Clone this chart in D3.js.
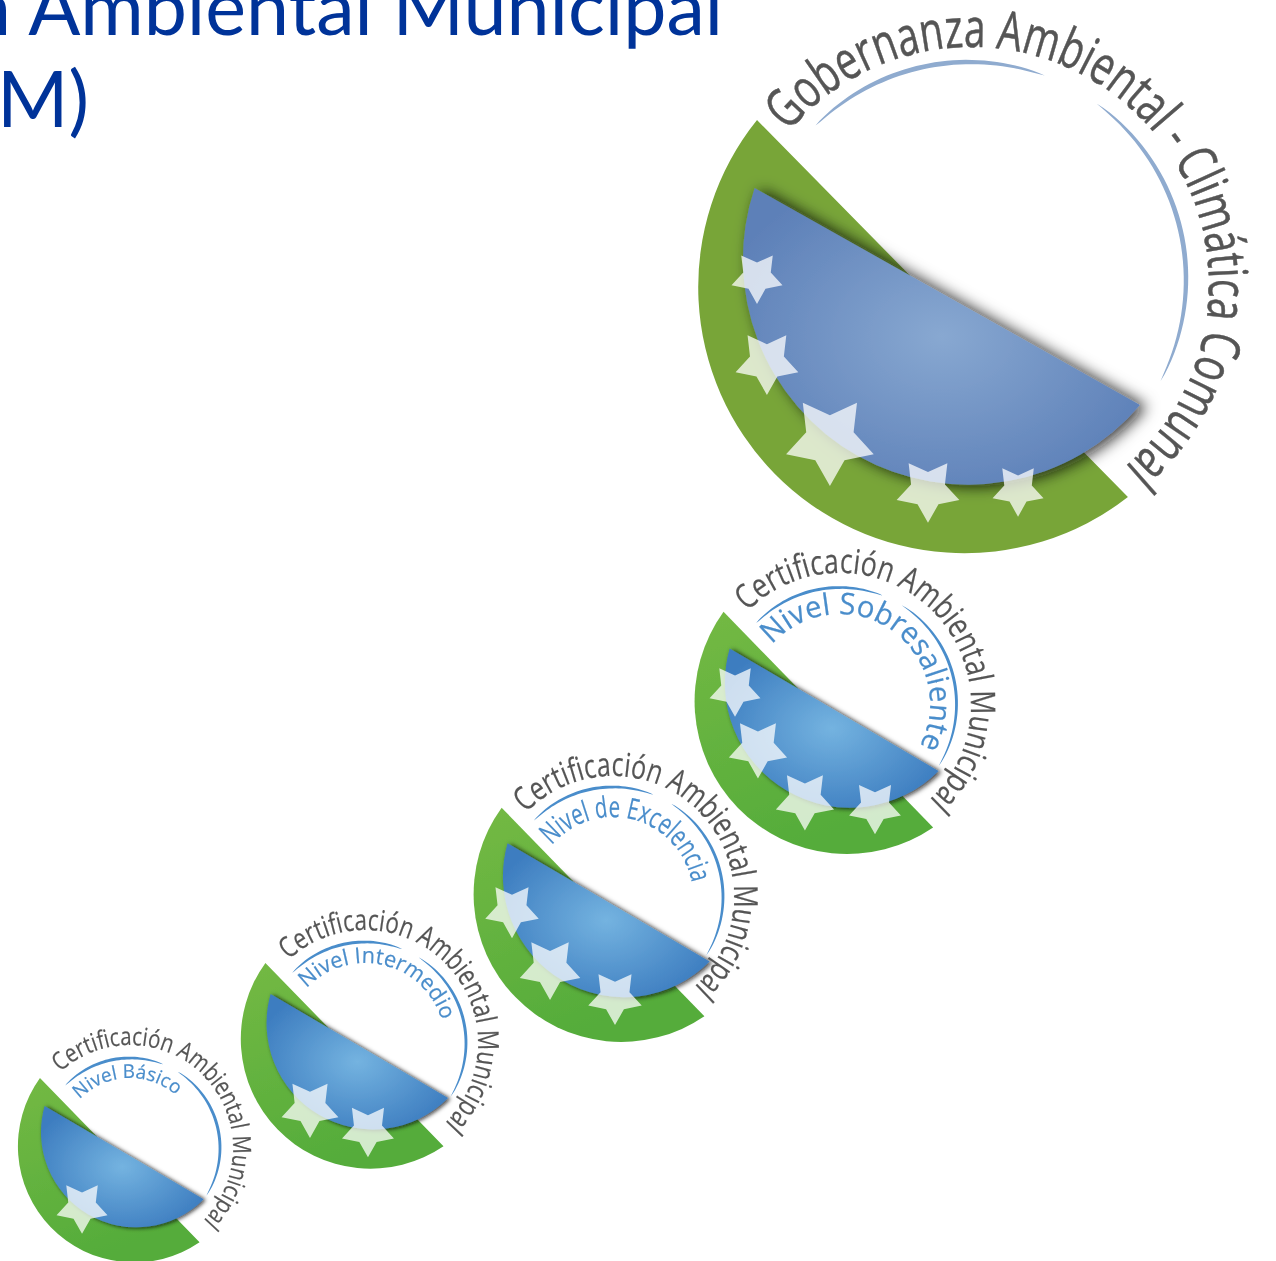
<!DOCTYPE html>
<html>
<head>
<meta charset="utf-8">
<style>
  html, body { margin: 0; padding: 0; background: #fff; overflow: hidden; }
  svg { display: block; }
  text { font-family: "Liberation Sans Narrow", "Open Sans", sans-serif; }
  .heading { font-family: Lato, "Open Sans", sans-serif; fill: #003399; font-size: 77px; }
</style>
</head>
<body>
<div id="chart"></div>
<script src="https://d3js.org/d3.v7.min.js"></script>
<script>
  // what the picture says
  const headingLines = ["n Ambiental Municipal", "M)"];
  const badgeTitles = [
    "Gobernanza Ambiental - Climática Comunal",
    "Certificación Ambiental Municipal",
    "Certificación Ambiental Municipal",
    "Certificación Ambiental Municipal",
    "Certificación Ambiental Municipal"
  ];
  const badgeLevels = ["", "Nivel Sobresaliente", "Nivel de Excelencia", "Nivel Intermedio", "Nivel Básico"];
  const badgeStarCounts = [5, 4, 3, 2, 1];

  // layout, in px of the page
  const mainShape = {a: [-.80, -.369], b: [.638, .44], r: .84, greenA: [-.791, -.623], greenB: [.593, .784], greenR: .9935};
  const smallShape = {a: [-.78, -.33], b: [.585, .47], r: .817, greenA: [-.82, -.57], greenB: [.55, .84], greenR: .998};

  const layout = [
    {cx: 969, cy: 287, R: 268, rx: 969, ry: 279, ring: 217, tx: 971, ty: 285, titleR: 238, titleSize: 54, titleLen: 788, title: [-50, 152],
      arcs: [[-45, 20.4], [36, 118]], shape: mainShape, main: true, stars: [[-.791, -.037, .10], [-.754, .280, .123], [-.519, .571, .172], [-.153, .757, .123], [.183, .757, .10]]},
    {cx: 849, cy: 699, R: 153, rx: 840, ry: 704, ring: 116.5, titleR: 131, titleSize: 34, titleLen: 416, title: [-45, 150], levelR: 90, levelSize: 30, levelLen: 262, level: [-49, 125],
      arcs: [[-46, 21.6], [32, 122]], shape: smallShape, stars: [[-.745, -.059, .175], [-.595, .320, .2], [-.288, .66, .2], [.17, .706, .178]]},
    {cx: 623, cy: 892, R: 148, rx: 613, ry: 897, ring: 110, titleR: 121, titleSize: 33, titleLen: 388, title: [-46, 150], levelR: 80, levelSize: 29, levelLen: 181, level: [-50, 90],
      arcs: [[-46, 21.6], [32, 122]], shape: smallShape, stars: [[-.75, .122, .19], [-.493, .514, .215], [-.054, .709, .19]]},
    {cx: 372, cy: 1037, R: 130, rx: 365, ry: 1043, ring: 101, titleR: 113, titleSize: 29, titleLen: 350, title: [-42.5, 150], levelR: 80, levelSize: 22, levelLen: 168, level: [-47, 85],
      arcs: [[-46, 21.6], [32, 122]], shape: smallShape, stars: [[-.477, .546, .23], [-.031, .715, .21]]},
    {cx: 135.5, cy: 1144.5, R: 116.5, rx: 130, ry: 1148, ring: 90, titleR: 103, titleSize: 25, titleLen: 318, title: [-42.5, 150], levelR: 70, levelSize: 19, levelLen: 106, level: [-46, 55],
      arcs: [[-46, 21.6], [32, 122]], shape: smallShape, stars: [[-.459, .536, .23]]}
  ];

  const width = 1276, height = 1261;
  const rad = d => d * Math.PI / 180;

  const svg = d3.select("#chart").append("svg").attr("width", width).attr("height", height);
  const defs = svg.append("defs");

  function radial(id, inner, outer) {
    const g = defs.append("radialGradient").attr("id", id).attr("cx", "50%").attr("cy", "50%").attr("r", "58%");
    g.append("stop").attr("offset", "0%").attr("stop-color", inner);
    g.append("stop").attr("offset", "100%").attr("stop-color", outer);
  }
  radial("blueMain", "#88a8d1", "#5d80b8");
  radial("blueSmall", "#74b3e0", "#3d7dc0");

  const greenSmall = defs.append("linearGradient").attr("id", "greenSmall").attr("x1", 0).attr("y1", 0).attr("x2", .4).attr("y2", 1);
  greenSmall.append("stop").attr("offset", "0%").attr("stop-color", "#74b944");
  greenSmall.append("stop").attr("offset", "100%").attr("stop-color", "#54ac3a");

  const soft = defs.append("filter").attr("id", "soft").attr("x", "-5%").attr("y", "-5%").attr("width", "110%").attr("height", "110%");
  soft.append("feGaussianBlur").attr("stdDeviation", .5);

  // heading, cut off by the top and left edge like the source slide
  svg.append("text").attr("class", "heading").attr("x", -32).attr("y", 35)
    .attr("textLength", 755).attr("lengthAdjust", "spacingAndGlyphs").text(headingLines[0]);
  svg.append("text").attr("class", "heading").attr("x", -3).attr("y", 127).text(headingLines[1]);

  const starLine = d3.lineRadial().curve(d3.curveLinearClosed);

  function starPath(r) {
    return starLine(d3.range(10).map(i => [Math.PI + i * Math.PI / 5, i % 2 ? r * .54 : r]));
  }

  function segment(u, a, b, r) {
    // chord from a round the bottom back to b, then closed by a straight line
    return `M${u(a[0])},${u(a[1])}A${u(r)},${u(r)} 0 0 0 ${u(b[0])},${u(b[1])}Z`;
  }

  function arcPath(cx, cy, r, range) {
    const p = d3.path();
    p.arc(cx, cy, r, rad(range[0] - 90), rad(range[1] - 90));
    return p.toString();
  }

  // ring stroke that thins out to nothing at both ends
  function taperedArc(r, range, w) {
    const steps = 40;
    const t = d3.scaleLinear().domain([0, steps]).range(range);
    const thick = k => w * Math.pow(Math.sin(Math.PI * k / steps), .55);
    return d3.areaRadial()
      .angle(k => rad(t(k)))
      .innerRadius(k => r - thick(k))
      .outerRadius(k => r + thick(k))(d3.range(steps + 1));
  }

  layout.forEach((b, i) => {
    const u = d3.scaleLinear().domain([0, 1]).range([0, b.R]);
    const g = svg.append("g").attr("filter", "url(#soft)");
    const body = g.append("g").attr("transform", `translate(${b.cx},${b.cy})`);

    const shadow = defs.append("filter").attr("id", "shadow" + i)
      .attr("x", "-15%").attr("y", "-15%").attr("width", "130%").attr("height", "130%");
    shadow.append("feDropShadow").attr("dx", u(b.main ? .024 : .018)).attr("dy", u(.006)).attr("stdDeviation", u(b.main ? .028 : .017))
      .attr("flood-color", "#111").attr("flood-opacity", .85);

    body.append("path")
      .attr("d", segment(u, b.shape.greenA, b.shape.greenB, b.shape.greenR))
      .attr("fill", b.main ? "#78a539" : "url(#greenSmall)");

    body.append("path")
      .attr("d", segment(u, b.shape.a, b.shape.b, b.shape.r))
      .attr("fill", b.main ? "url(#blueMain)" : "url(#blueSmall)")
      .attr("filter", `url(#shadow${i})`);

    body.selectAll("path.star").data(b.stars.slice(0, badgeStarCounts[i])).join("path")
      .attr("class", "star")
      .attr("transform", d => `translate(${u(d[0])},${u(d[1])})`)
      .attr("d", d => starPath(u(d[2])))
      .attr("fill", "#fff").attr("fill-opacity", .74);

    const ringColor = b.main ? "#8fabcf" : "#4a8dcb";
    const ring = g.append("g").attr("transform", `translate(${b.rx},${b.ry})`);
    b.arcs.forEach(r => {
      ring.append("path")
        .attr("d", taperedArc(b.ring, r, b.main ? 2.4 : 1.5))
        .attr("fill", ringColor);
    });

    // curved labels
    const titleId = "titlePath" + i;
    defs.append("path").attr("id", titleId).attr("d", arcPath(b.tx || b.rx, b.ty || b.ry, b.titleR, b.title));
    g.append("text").attr("font-size", b.titleSize).attr("fill", "#555")
      .attr("stroke", "#555").attr("stroke-width", b.main ? .5 : .2)
      .append("textPath").attr("href", "#" + titleId)
      .attr("textLength", b.titleLen).attr("lengthAdjust", "spacingAndGlyphs")
      .text(badgeTitles[i]);

    if (badgeLevels[i]) {
      const levelId = "levelPath" + i;
      defs.append("path").attr("id", levelId).attr("d", arcPath(b.rx, b.ry, b.levelR, b.level));
      g.append("text").attr("font-size", b.levelSize).attr("fill", "#4a8dcb")
        .attr("stroke", "#4a8dcb").attr("stroke-width", .2)
        .append("textPath").attr("href", "#" + levelId)
        .attr("textLength", b.levelLen).attr("lengthAdjust", "spacingAndGlyphs")
        .text(badgeLevels[i]);
    }
  });
</script>
</body>
</html>
